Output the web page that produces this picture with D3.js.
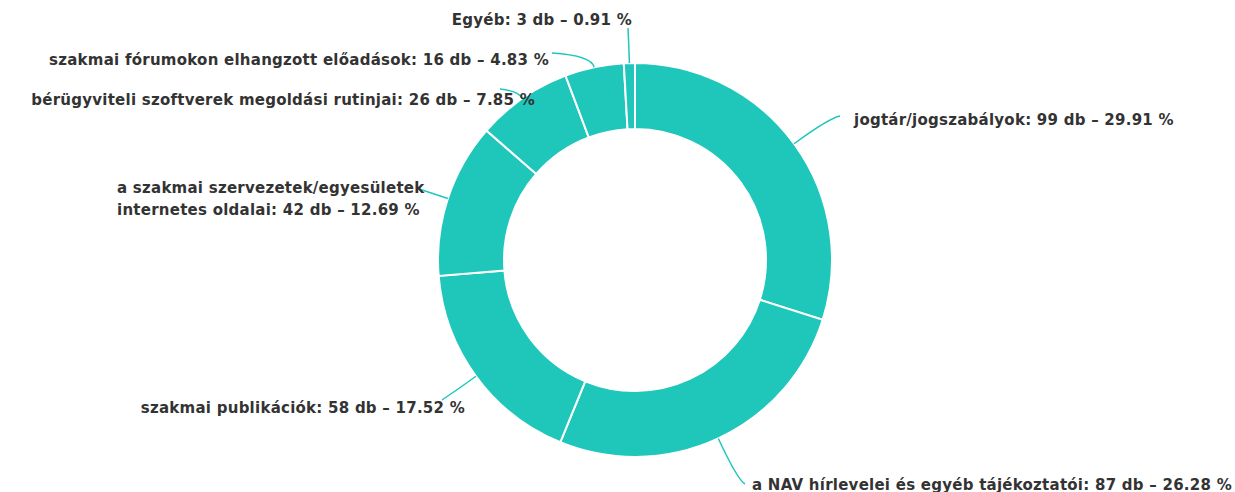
<!DOCTYPE html>
<html>
<head>
<meta charset="utf-8">
<script src="https://cdn.jsdelivr.net/npm/d3@7"></script>
<style>
  body { margin: 0; background: #fff; }
  svg text { font-family: "DejaVu Sans", Verdana, sans-serif; font-weight: bold; }
</style>
</head>
<body>
<div id="chart"></div>
<script>
// data
const categories = [
    "jogtár/jogszabályok",
    "a NAV hírlevelei és egyéb tájékoztatói",
    "szakmai publikációk",
    "a szakmai szervezetek/egyesületek internetes oldalai",
    "bérügyviteli szoftverek megoldási rutinjai",
    "szakmai fórumokon elhangzott előadások",
    "Egyéb"
];
const counts = [99, 87, 58, 42, 26, 16, 3];
const percents = ["29.91", "26.28", "17.52", "12.69", "7.85", "4.83", "0.91"];

// label layout: radial line length, line end, text anchor, text lines
const labelLayout = [
    {len: 44, end: [840, 116], text: [854, 120], anchor: "start"},
    {len: 46, end: [745, 484], text: [752, 485], anchor: "start"},
    {len: 20, end: [442, 400], text: [465, 408], anchor: "end"},
    {len: 5, end: [419, 189], text: [117, 188], anchor: "start", split: "a szakmai szervezetek/egyesületek|internetes oldalai"},
    {len: 9, end: [500, 89], text: [535, 100], anchor: "end"},
    {len: 12, end: [552, 53], text: [549, 60], anchor: "end"},
    {len: 18, end: [628, 28], text: [632, 20], anchor: "end"}
];

const width = 1235, height = 492;
const cx = 635, cy = 260;
const outerR = 197, innerR = 131;
const sliceColor = "#1fc7bb";

const svg = d3.select("#chart")
    .append("svg")
    .attr("width", width)
    .attr("height", height);

const g = svg.append("g")
    .attr("transform", `translate(${cx},${cy})`);

const pie = d3.pie()
    .sort(null)
    .value(d => d);

const arcs = pie(counts);

const arc = d3.arc()
    .innerRadius(innerR)
    .outerRadius(outerR);

// slices
g.selectAll("path.slice")
    .data(arcs)
    .enter()
    .append("path")
    .attr("class", "slice")
    .attr("d", arc)
    .attr("fill", sliceColor)
    .attr("stroke", "#fff")
    .attr("stroke-width", 2);

// label lines
arcs.forEach(function (a, i) {
    const lay = labelLayout[i];
    const mid = (a.startAngle + a.endAngle) / 2;
    const p0 = [Math.sin(mid) * outerR, -Math.cos(mid) * outerR];
    const p1 = [Math.sin(mid) * (outerR + lay.len), -Math.cos(mid) * (outerR + lay.len)];
    const p2 = [lay.end[0] - cx, lay.end[1] - cy];
    const path = d3.path();
    path.moveTo(p0[0], p0[1]);
    path.quadraticCurveTo(p1[0], p1[1], p2[0], p2[1]);
    g.append("path")
        .attr("d", path.toString())
        .attr("fill", "none")
        .attr("stroke", sliceColor)
        .attr("stroke-width", 1.5);
});

// labels
arcs.forEach(function (a, i) {
    const lay = labelLayout[i];
    const full = categories[i] + ": " + counts[i] + " db – " + percents[i] + " %";
    let lines = [full];
    if (lay.split) {
        const parts = lay.split.split("|");
        lines = [parts[0], parts[1] + ": " + counts[i] + " db – " + percents[i] + " %"];
    }
    const t = svg.append("text")
        .attr("x", lay.text[0])
        .attr("y", lay.text[1])
        .attr("text-anchor", lay.anchor)
        .attr("dominant-baseline", "middle")
        .style("font-size", "15px")
        .style("letter-spacing", "0.25px")
        .style("fill", "#333");
    lines.forEach(function (l, j) {
        t.append("tspan")
            .attr("x", lay.text[0])
            .attr("dy", j === 0 ? 0 : 22)
            .text(l);
    });
});
</script>
</body>
</html>
